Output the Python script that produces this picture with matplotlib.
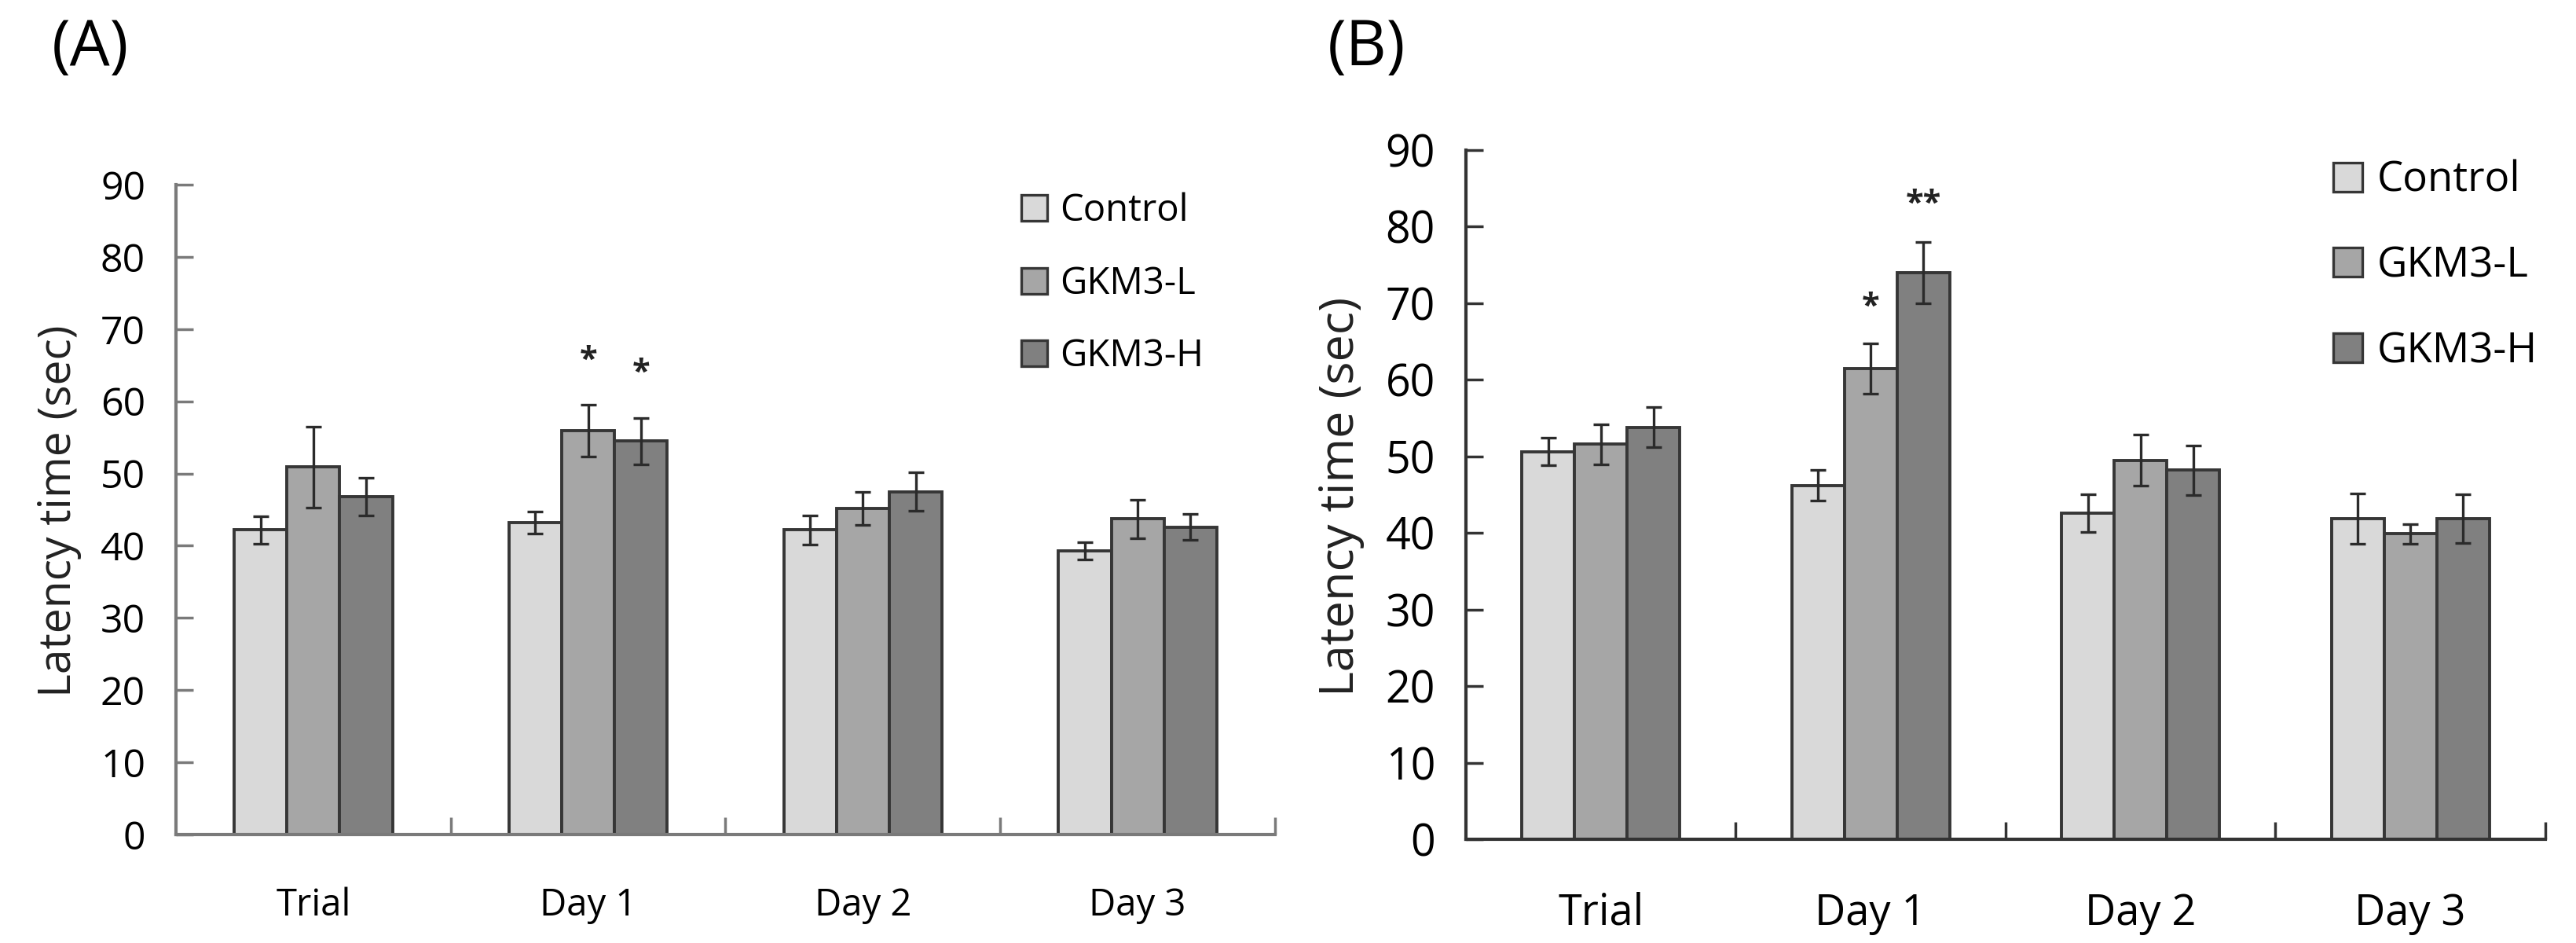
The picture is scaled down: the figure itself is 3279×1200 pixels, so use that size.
import numpy as np
import matplotlib
matplotlib.use('Agg')
import matplotlib.pyplot as plt
from matplotlib.patches import Patch

plt.rcParams['font.family'] = ['Open Sans', 'DejaVu Sans']

# data
days = ['Trial', 'Day 1', 'Day 2', 'Day 3']
groups = ['Control', 'GKM3-L', 'GKM3-H']

a_control = [42.2, 43.2, 42.2, 39.3]
a_low = [50.9, 55.9, 45.2, 43.7]
a_high = [46.8, 54.5, 47.5, 42.6]
a_control_err = [1.9, 1.5, 2.0, 1.2]
a_low_err = [5.6, 3.6, 2.3, 2.7]
a_high_err = [2.6, 3.2, 2.7, 1.8]

b_control = [50.6, 46.2, 42.6, 41.9]
b_low = [51.6, 61.5, 49.5, 39.9]
b_high = [53.8, 74.0, 48.2, 41.9]
b_control_err = [1.8, 2.0, 2.5, 3.3]
b_low_err = [2.6, 3.3, 3.3, 1.3]
b_high_err = [2.6, 4.0, 3.2, 3.2]

# significance marks: (day index, group index, y, text)
a_stars = [(1, 1, 65.6, '*'), (1, 2, 63.9, '*')]
b_stars = [(1, 1, 69.4, '*'), (1, 2, 82.9, '**')]

colors = ['#d9d9d9', '#a6a6a6', '#808080']
W, H = 3280, 1200


def draw_panel(rect, means, errs, stars, bar_w, spine_col, fs_tick, fs_xlab,
               fs_ylab, fs_leg, leg_anchor, leg_spacing, title, title_xy, ylab_x):
    ax = fig.add_axes(rect)
    x = np.arange(len(days)) + 0.5
    for i, (m, e) in enumerate(zip(means, errs)):
        ax.bar(x + (i - 1) * bar_w, m, bar_w, color=colors[i], edgecolor='#363636',
               linewidth=2.8, label=groups[i], zorder=2)
        ax.errorbar(x + (i - 1) * bar_w, m, yerr=e, fmt='none', ecolor='#2b2b2b',
                    elinewidth=2.4, capsize=7, capthick=2.4, zorder=3)
    for d, g, y, s in stars:
        ax.text(x[d] + (g - 1) * bar_w, y, s, ha='center', va='center',
                fontsize=30, fontweight='bold', color='#222222')
    ax.set_xlim(0, 4)
    ax.set_ylim(0, 90)
    ax.set_yticks(np.arange(0, 91, 10))
    ax.set_xticks([1, 2, 3, 4])
    ax.set_xticklabels([])
    ax.set_xticks(x, minor=True)
    ax.set_xticklabels(days, minor=True)
    ax.tick_params(axis='x', which='minor', length=0, labelsize=fs_xlab, pad=48)
    ax.tick_params(axis='x', which='major', direction='in', length=16, width=2.5,
                   color=spine_col)
    ax.tick_params(axis='y', direction='in', length=16, width=2.5, color=spine_col,
                   labelsize=fs_tick, pad=28)
    for side in ['top', 'right']:
        ax.spines[side].set_visible(False)
    for side in ['left', 'bottom']:
        ax.spines[side].set_color(spine_col)
        ax.spines[side].set_linewidth(3)
    ax.set_ylabel('Latency time (sec)', fontsize=fs_ylab, color='#222222')
    handles = [Patch(facecolor=colors[i], edgecolor='#363636', linewidth=2.4)
               for i in range(3)]
    ax.legend(handles, groups, loc='upper left', bbox_to_anchor=leg_anchor,
              bbox_transform=fig.transFigure, frameon=False, fontsize=fs_leg,
              handlelength=0.7, handleheight=0.7, handletextpad=0.35,
              labelspacing=leg_spacing, borderpad=0, borderaxespad=0)
    fig.text(title_xy[0], title_xy[1], title, fontsize=58, ha='left', va='top')
    return ax


fig = plt.figure(figsize=(W / 100, H / 100), dpi=100)

ax_a = draw_panel([224 / W, 1 - 1062 / H, (1623 - 224) / W, (1062 - 235) / H],
                  [a_control, a_low, a_high], [a_control_err, a_low_err, a_high_err],
                  a_stars, 0.192, '#7a7a7a', 36, 34, 41, 34,
                  (1300 / W, 1 - 245 / H), 0.95, '(A)', (66 / W, 1 - 22 / H), 104 / W)
# label centre sits a bit above the axes centre in the reference
ax_a.yaxis.set_label_coords(104 / W, 1 - 650 / H, transform=fig.transFigure)

ax_b = draw_panel([1866 / W, 1 - 1068 / H, (3240 - 1866) / W, (1068 - 191) / H],
                  [b_control, b_low, b_high], [b_control_err, b_low_err, b_high_err],
                  b_stars, 0.195, '#333333', 40, 39, 44, 38,
                  (2970 / W, 1 - 203 / H), 1.05, '(B)', (1690 / W, 1 - 22 / H), 1737 / W)
ax_b.yaxis.set_label_coords(1737 / W, 1 - 632 / H, transform=fig.transFigure)

fig.savefig('out.png', dpi=100, facecolor='white')
